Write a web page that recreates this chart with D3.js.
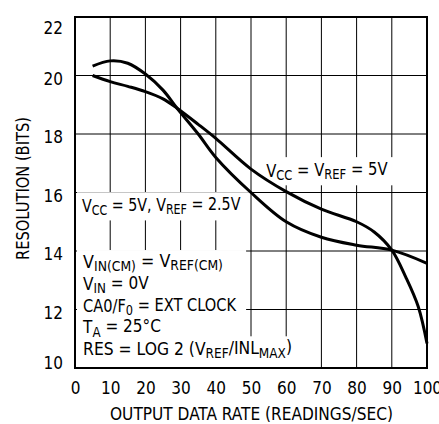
<!DOCTYPE html>
<html>
<head>
<meta charset="utf-8">
<script src="https://cdn.jsdelivr.net/npm/d3@7"></script>
<style>
  body { margin: 0; background: #fff; }
  svg text { font-family: "Liberation Sans Narrow", "DejaVu Sans Condensed", sans-serif; fill: #000; }
</style>
</head>
<body>
<div id="chart"></div>
<script>
  // output data rate (readings/sec) and resolution (bits) for each curve
  const rateA = [5, 10, 15, 20, 25, 29, 35, 40, 50, 60, 70, 80, 85, 90, 94, 97.5, 100];
  const resA = [20.0, 19.79, 19.63, 19.45, 19.2, 18.88, 18.33, 17.85, 16.8, 16.03, 15.43, 15.0, 14.65, 14.03, 13.1, 12.1, 10.84];
  const rateB = [5, 10, 15, 20, 25, 29, 35, 40, 50, 60, 70, 80, 90, 100];
  const resB = [20.32, 20.5, 20.42, 20.05, 19.5, 18.88, 18.0, 17.2, 16.0, 15.0, 14.47, 14.2, 14.03, 13.58];

  const xTicks = [0, 10, 20, 30, 40, 50, 60, 70, 80, 90, 100];
  const yTicks = [10, 12, 14, 16, 18, 20, 22];

  const W = 439, H = 424;
  const margin = { top: 17, right: 12, bottom: 56, left: 75 };
  const iw = W - margin.left - margin.right;
  const ih = H - margin.top - margin.bottom;

  const svg = d3.select("#chart").append("svg")
    .attr("width", W)
    .attr("height", H);

  const g = svg.append("g")
    .attr("transform", `translate(${margin.left},${margin.top})`);

  const x = d3.scaleLinear().domain([0, 100]).range([0, iw]);
  const y = d3.scaleLinear().domain([10, 22]).range([ih, 0]);

  // grid
  g.append("g").selectAll("line")
    .data(xTicks)
    .enter().append("line")
    .attr("x1", d => x(d)).attr("x2", d => x(d))
    .attr("y1", 0).attr("y2", ih)
    .attr("stroke", "#000").attr("stroke-width", 1);
  g.append("g").selectAll("line")
    .data(yTicks)
    .enter().append("line")
    .attr("x1", 0).attr("x2", iw)
    .attr("y1", d => y(d)).attr("y2", d => y(d))
    .attr("stroke", "#000").attr("stroke-width", 1);

  // white boxes behind the labels go over the grid, under the curves
  const boxes = g.append("g");
  const curves = g.append("g");
  const texts = g.append("g");

  const line = d3.line()
    .x(d => x(d[0]))
    .y(d => y(d[1]))
    .curve(d3.curveCatmullRom.alpha(0.5));

  const curveA = rateA.map((r, i) => [r, resA[i]]);
  const curveB = rateB.map((r, i) => [r, resB[i]]);

  curves.append("path")
    .datum(curveA)
    .attr("fill", "none").attr("stroke", "#000").attr("stroke-width", 3)
    .attr("d", line);
  curves.append("path")
    .datum(curveB)
    .attr("fill", "none").attr("stroke", "#000").attr("stroke-width", 3)
    .attr("d", line);

  const fs = 17;

  // text with subscripts, squeezed to a target width
  function rich(px, py, parts, target) {
    const t = texts.append("text")
      .attr("x", px).attr("y", py)
      .style("font-size", fs + "px");
    parts.forEach(p => {
      t.append("tspan")
        .attr("dy", p.sub ? "0.25em" : (p.back ? "-0.25em" : null))
        .style("font-size", p.sub ? (fs * 0.78) + "px" : null)
        .text(p.t);
    });
    let bb = t.node().getBBox();
    if (target) {
      const k = target / bb.width;
      t.attr("transform", `translate(${px},0) scale(${k},1) translate(${-px},0)`);
      bb = { x: px + (bb.x - px) * k, y: bb.y, width: bb.width * k, height: bb.height };
    }
    return bb;
  }

  function box(x0, y0, x1, y1) {
    boxes.append("rect")
      .attr("x", x0).attr("y", y0)
      .attr("width", x1 - x0).attr("height", y1 - y0)
      .attr("fill", "#fff");
  }

  let bb = rich(x(54.3), y(16.53), [
    { t: "V" }, { t: "CC", sub: true }, { t: " = V", back: true }, { t: "REF", sub: true }, { t: " = 5V", back: true }
  ], 122);
  box(bb.x - 8, bb.y - 2, bb.x + bb.width + 9, bb.y + bb.height + 2);

  bb = rich(x(2), y(15.33), [
    { t: "V" }, { t: "CC", sub: true }, { t: " = 5V, V", back: true }, { t: "REF", sub: true }, { t: " = 2.5V", back: true }
  ], 159);
  box(2, bb.y - 2, bb.x + bb.width + 9, bb.y + bb.height + 2);

  const notes = [
    [{ t: "V" }, { t: "IN(CM)", sub: true }, { t: " = V", back: true }, { t: "REF(CM)", sub: true }],
    [{ t: "V" }, { t: "IN", sub: true }, { t: " = 0V", back: true }],
    [{ t: "CA0/F" }, { t: "0", sub: true }, { t: " = EXT CLOCK", back: true }],
    [{ t: "T" }, { t: "A", sub: true }, { t: " = 25°C", back: true }],
    [{ t: "RES = LOG 2 (V" }, { t: "REF", sub: true }, { t: "/INL", back: true }, { t: "MAX", sub: true }, { t: ")", back: true }]
  ];
  const noteW = [140, null, 154, null, 209];
  const noteBoxes = notes.map((n, i) => rich(x(2.3), y(13.42) + i * 21.8, n, noteW[i]));
  const noteTop = noteBoxes[0].y - 1;
  const blockRight = d3.max(noteBoxes.slice(0, 4), b => b.x + b.width) + 9;
  box(2, noteTop, blockRight, ih - 1);
  const lastNote = noteBoxes[4];
  box(2, lastNote.y - 1, lastNote.x + lastNote.width + 4, ih - 1);

  // frame
  g.append("rect")
    .attr("width", iw).attr("height", ih)
    .attr("fill", "none").attr("stroke", "#000").attr("stroke-width", 2);

  // axes tick labels
  const xAxis = g.append("g")
    .attr("transform", `translate(0,${ih})`)
    .call(d3.axisBottom(x).tickValues(xTicks).tickSize(0).tickPadding(14));
  xAxis.select(".domain").remove();
  xAxis.selectAll("text").style("font-size", fs + "px").attr("fill", "#000");

  const yAxis = g.append("g")
    .call(d3.axisLeft(y).tickValues(yTicks).tickSize(0).tickPadding(12));
  yAxis.select(".domain").remove();
  yAxis.selectAll("text").style("font-size", fs + "px").attr("fill", "#000")
    .attr("dy", d => d === 22 ? "0.95em" : (d === 10 ? "0.05em" : "0.5em"));

  svg.append("text")
    .attr("x", 110)
    .attr("y", 420)
    .attr("textLength", 283)
    .attr("lengthAdjust", "spacingAndGlyphs")
    .style("font-size", "18px")
    .text("OUTPUT DATA RATE (READINGS/SEC)");

  svg.append("text")
    .attr("transform", "translate(29,260) rotate(-90)")
    .attr("textLength", 143)
    .attr("lengthAdjust", "spacingAndGlyphs")
    .style("font-size", "18px")
    .text("RESOLUTION (BITS)");
</script>
</body>
</html>
